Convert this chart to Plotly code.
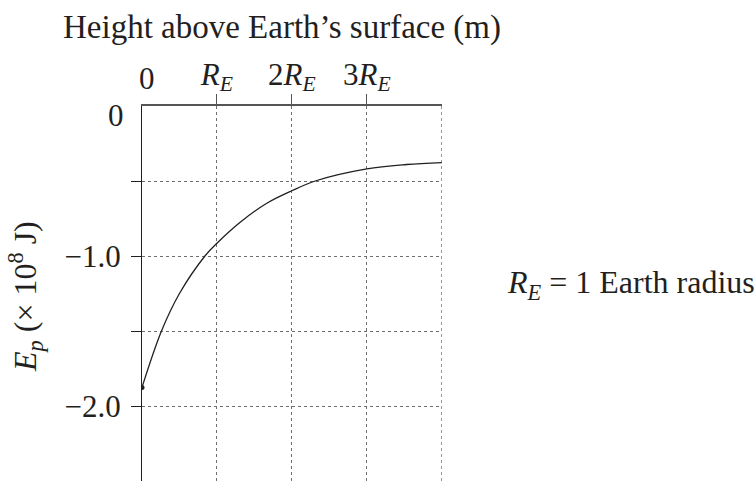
import plotly.graph_objects as go

# Height above the surface, in Earth radii, and potential energy (x 10^8 J)
height_re = [0, 0.26, 0.5, 0.84, 1.0, 1.31, 1.66, 2.0, 2.31, 3.0, 3.53, 4.0]
energy = [-1.876, -1.50, -1.25, -1.00, -0.915, -0.775, -0.65, -0.565, -0.50, -0.419, -0.39, -0.377]

x_tickvals = [1, 2, 3]
x_ticktext = ["<i>R</i><sub><i>E</i></sub>", "2<i>R</i><sub><i>E</i></sub>",
              "3<i>R</i><sub><i>E</i></sub>"]
x_edge = 4
y_tickvals = [-0.5, -1.0, -1.5, -2.0]
y_ticktext = ["", "\u22121.0", "", "\u22122.0"]

SERIF = "Liberation Serif"
INK = "#231f20"
GRID = "#6e6e6e"
TICK_SIZE = 31
TEXT_SIZE = 32
X_RANGE = [0, 4.003]

fig = go.Figure()
fig.add_trace(go.Scatter(
    x=height_re, y=energy, mode="lines",
    line=dict(color=INK, width=1.3, shape="spline", smoothing=1.0),
    hoverinfo="skip", showlegend=False,
))
fig.add_trace(go.Scatter(
    x=height_re[:1], y=energy[:1], mode="markers",
    marker=dict(color=INK, size=5), hoverinfo="skip", showlegend=False,
))

grid = dict(showgrid=True, gridcolor=GRID, griddash="dot", gridwidth=1)

fig.update_layout(
    xaxis=dict(
        side="top", range=X_RANGE, tickvals=x_tickvals, ticktext=x_ticktext,
        ticks="outside", ticklen=10, tickcolor="#555555", tickwidth=1.3,
        showline=True, linecolor="#555555", linewidth=1.5,
        zeroline=False, tickfont=dict(family=SERIF, size=TICK_SIZE, color=INK),
        ticklabelstandoff=-3, **grid,
    ),
    yaxis=dict(
        range=[-2.5, 0], tickvals=y_tickvals, ticktext=y_ticktext,
        ticks="outside", ticklen=10, tickcolor=INK, tickwidth=1,
        showline=True, linecolor=INK, linewidth=1.3,
        zeroline=False, tickfont=dict(family=SERIF, size=TICK_SIZE, color=INK),
        ticklabelstandoff=4, **grid,
    ),
)

# dotted rule closing the plot on the right, at the last height grid value
fig.add_shape(type="line", xref="x", yref="paper", x0=x_edge, x1=x_edge, y0=0, y1=1,
              line=dict(color=GRID, width=1, dash="dot"), layer="below")

W, H = 755, 481
L, R, T, B = 142, 313, 106, 0
pw, ph = W - L - R, H - T - B


def to_paper(px, py):
    return (px - L) / pw, 1 - (py - T) / ph


def label(px, py, text, size, **kw):
    ax, ay = to_paper(px, py)
    return dict(x=ax, y=ay, xref="paper", yref="paper", text=text, showarrow=False,
                xanchor="center", yanchor="middle",
                font=dict(family=SERIF, size=size, color=INK), **kw)


annotations = [
    # zero labels on both axes
    label(147, 79, "0", TICK_SIZE),
    label(116, 116, "0", TICK_SIZE),
    # axis titles
    label(282, 27, "Height above Earth\u2019s surface (m)", 33),
    label(25, 297, "<i>E</i><sub><i>p</i></sub> (\u00d7 10<sup>8</sup> J)", TEXT_SIZE,
          textangle=-90),
    # note on the unit
    label(631, 284, "<i>R</i><sub><i>E</i></sub> = 1 Earth radius", TEXT_SIZE),
]

fig.update_layout(
    width=W, height=H,
    margin=dict(l=L, r=R, t=T, b=B),
    paper_bgcolor="white", plot_bgcolor="white",
    annotations=annotations,
)

fig.write_html("out.html")
